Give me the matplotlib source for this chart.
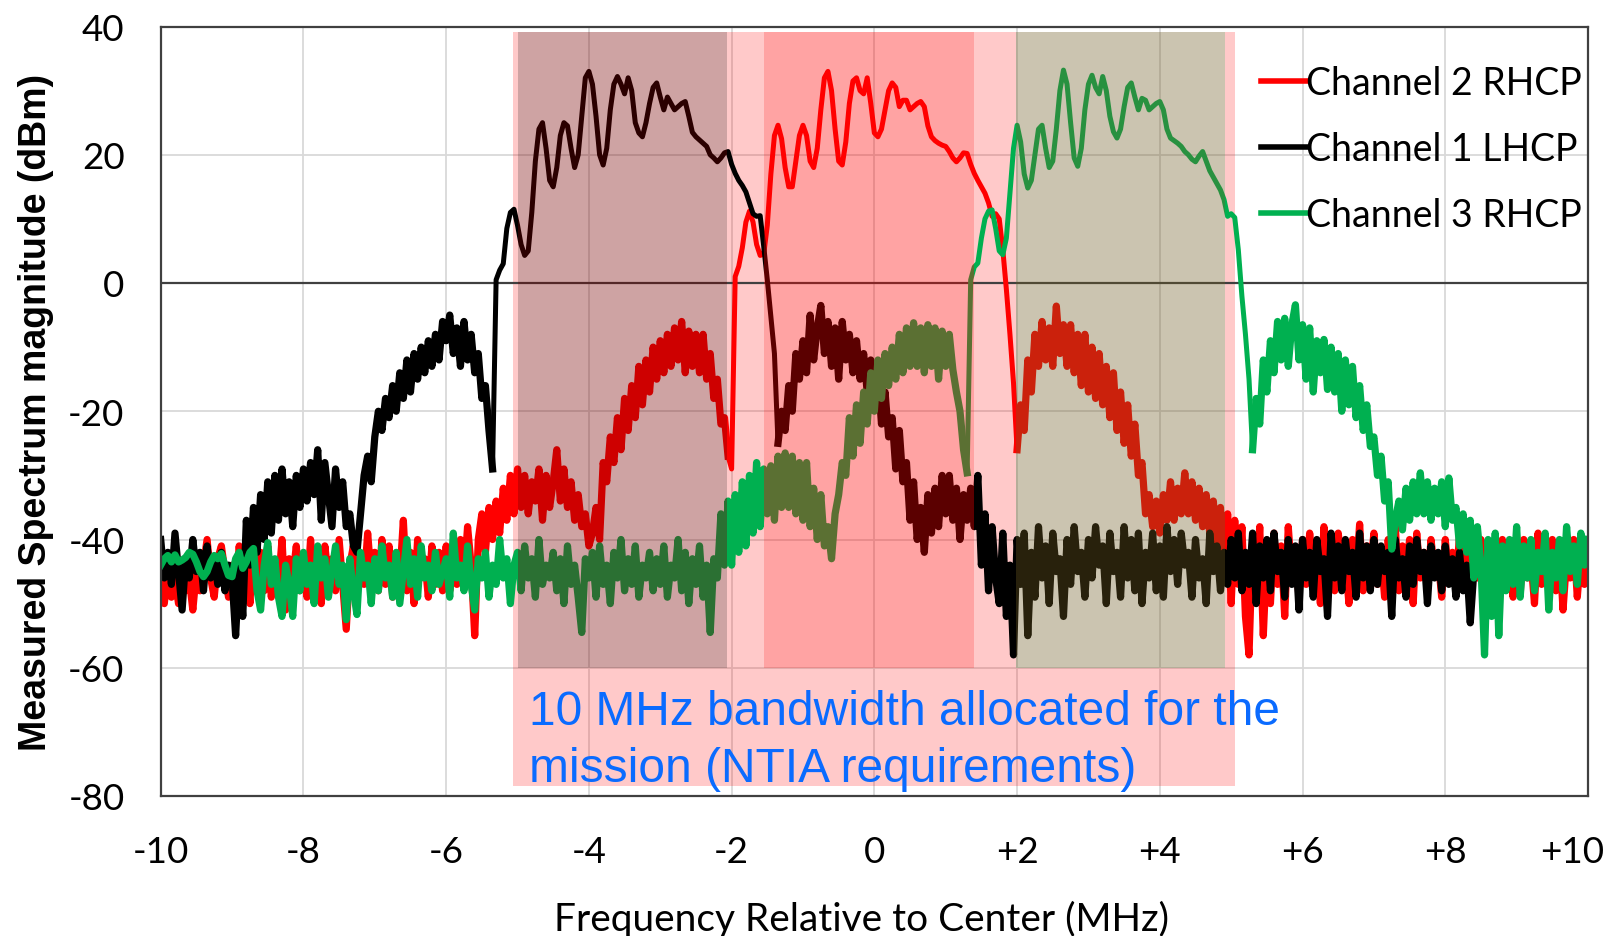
import matplotlib
matplotlib.use('Agg')
import matplotlib.pyplot as plt
from matplotlib.patches import Rectangle
from matplotlib.transforms import ScaledTranslation
import numpy as np

# ---- data (dBm on a 0.05 MHz grid) ----
freq_mhz = np.round(np.arange(-10.0, 10.0001, 0.05), 2)

# Channel 2 RHCP (red)
ch2_dbm = [
    -47, -50, -45, -49, -46, -50, -44, -48, -46, -51, -45, -48, -44, -40, -46, -49, -43, -41, -45, -49,
    -44, -49, -41, -47, -43, -50, -40, -46, -42, -48, -41, -49, -44, -47, -40, -51, -43, -46, -41, -48,
    -43, -49, -40, -47, -42, -50, -41, -46, -43, -48, -40, -47, -54, -44, -41, -49, -43, -47, -39, -46,
    -42, -48, -40, -47, -41, -49, -43, -46, -37, -48, -42, -50, -40, -46, -43, -49, -41, -47, -42, -48,
    -41, -48, -43, -47, -40, -46, -38, -44, -55, -40, -36, -42, -35, -40, -34, -39, -32, -37, -30, -36,
    -29, -35, -30, -36, -31, -34, -29, -37, -30, -35, -31, -26, -34, -29, -35, -31, -37, -33, -38, -36,
    -41, -39, -35, -40, -28, -31, -24, -28, -21, -26, -18, -23, -16, -21, -13, -19, -12, -17, -10, -15,
    -9, -14, -8, -13, -7, -12, -6, -14, -7.5, -13, -8, -14, -8, -15, -11, -18, -15, -22, -21, -27,
    -29, 1, 2.6, 5.5, 9.5, 11.2, 9.5, 6, 4.3, 4.5, 9, 17, 23, 24.6, 22.5, 18, 15, 15, 19, 23,
    24.6, 23, 19, 18, 21, 27, 32, 33, 30, 24, 19, 18.4, 22, 28, 31.5, 32, 30, 29.5, 32, 28,
    23.4, 22.8, 24, 27, 30, 31.2, 30.5, 27.5, 28.5, 28.5, 27, 27.5, 28, 28.3, 27.5, 24.5, 22.8, 22.2, 21.8, 21.5,
    21.3, 20.5, 19.5, 18.9, 19.5, 20.3, 20.2, 18.5, 17.1, 16, 15, 14, 12.5, 10.4, 10.8, 10, 5.2, -1, -8, -15.6,
    -26, -19, -23, -12, -17, -8, -13, -6, -12, -7, -13, -3.6, -11, -6.5, -13, -6.5, -14, -8, -16, -8,
    -17, -10, -18, -11, -19, -13, -21, -14, -23, -17, -25, -19, -27, -22, -30, -28, -36, -33, -38, -34,
    -39, -33, -37, -31, -37, -32, -36, -29.6, -36, -31, -37, -32, -38, -33, -39, -34, -42, -35, -46, -36,
    -50, -37, -47, -38, -52, -58, -40, -49, -38, -55, -42, -50, -39, -47, -41, -52, -38, -46, -42, -49,
    -40, -47, -39, -45, -42, -50, -38, -46, -41, -48, -39, -44, -43, -50, -40, -46, -37.6, -48, -41, -45,
    -39, -47, -42, -49, -40, -46, -38, -48, -41, -45, -40, -50, -39, -46, -42, -48, -40, -45, -43, -49,
    -40, -46, -42, -48, -39, -47, -41, -50, -43, -46, -40, -49, -42, -45, -41, -48, -40, -47, -42, -49,
    -41, -48.5, -40, -46, -43, -50, -39, -47, -42, -45, -40, -48, -41, -51, -43, -46, -40, -49, -42, -47,
    -44,
]

# Channel 1 LHCP (black), trace stops near +8.4 MHz
ch1_dbm = [
    -40, -46, -42, -47, -39, -45, -51, -43, -46, -40, -45, -42, -48, -41, -46, -43, -47, -42, -48, -44,
    -46, -55, -44, -52, -37, -44, -35, -42, -33, -40, -31, -39, -30, -37, -29, -36, -31, -38, -30, -35,
    -29, -34, -28, -33, -26, -37, -28, -33, -38, -29, -35, -31, -38, -36, -41, -42, -36, -30, -27, -31,
    -24, -20, -23, -18, -21, -16, -20, -14, -18, -12, -17, -11, -15, -10, -14, -9, -13, -8, -12, -6,
    -9, -5, -11, -7, -13, -6, -12, -8, -14, -11, -18, -16, -23, -29, 0.5, 2, 3, 8.5, 11, 11.5,
    9, 6, 4.3, 5, 11, 19, 24, 25, 21, 16, 15, 18, 23, 25, 24.5, 21, 18, 20, 26, 32,
    33, 31, 26, 20, 18.4, 21, 27, 31, 32.2, 31, 29.5, 32, 30, 25, 23.4, 22.8, 25, 28, 30.5, 31.2,
    29, 27, 29, 28, 27, 27.5, 28, 28.3, 26, 23.5, 22.8, 22.3, 21.8, 21.3, 20, 19.5, 18.9, 19.5, 20.3, 20.5,
    18.5, 17.1, 16, 15.2, 14.2, 12.5, 10.8, 10.4, 10.5, 5.7, 0.5, -5.2, -11, -25, -20, -23, -16, -20, -11, -15,
    -9, -14, -5, -12, -7, -3.5, -11, -6, -13, -7, -15, -6, -12, -8, -14, -9, -15, -11, -17, -12,
    -16, -14, -22, -17, -24, -21, -29, -23, -31, -28, -37, -31, -40, -35, -42, -33, -39, -32, -38, -30,
    -36, -30, -37, -32, -40, -33, -37, -32, -38, -30, -44, -36, -48, -38, -46, -50, -39, -52, -44, -58,
    -40, -47, -39, -55, -42, -49, -38, -46, -41, -50, -39, -45, -43, -52, -40, -47, -38, -45, -42, -49,
    -40, -46, -38, -44, -41, -50, -39, -45, -42, -49, -38, -46, -40, -48, -39, -50, -42, -46, -39, -48,
    -41, -49, -38, -45, -40, -47, -39, -44, -42, -49, -40, -46, -43, -50, -39, -45, -41, -48, -42, -47,
    -40, -46, -39, -48, -42, -47, -39, -50, -41, -46, -40, -48, -39, -45, -42, -49, -40, -47, -41, -51,
    -40, -46, -42, -49, -40, -45, -43, -52, -39, -46, -41, -48, -40, -45, -42, -49, -39, -46, -41, -48,
    -40, -47, -41, -45, -42, -52, -40, -46, -43, -49, -41, -47, -40, -45, -42, -50, -41, -46, -42, -48,
    -41, -47, -43, -49, -42, -48, -44, -53, -45,
]

# Channel 3 RHCP (green)
ch3_dbm = [
    -44, -43, -42.5, -43.5, -42.4, -43.5, -43.2, -42.8, -42, -42.3, -43.5, -45, -45.8, -45, -43.5, -42.5, -43, -42.2, -44, -45.6,
    -45.8, -43, -42, -44.5, -43.5, -42, -41.4, -48, -51, -44, -40.5, -47, -43, -49, -52, -44, -47, -52, -43, -48,
    -42, -47, -44, -50, -41, -46, -43, -49, -45, -41, -47, -44, -52.5, -43, -48, -51.7, -42, -46, -44, -50,
    -43, -48, -41, -46, -44, -49, -42, -50, -45, -40, -47, -43, -49, -41, -46, -44, -48, -42, -47, -45,
    -43, -49, -39, -46, -44, -48, -41, -47, -51, -43, -46, -42, -49, -44, -47, -40, -46, -43, -50, -44,
    -42, -48, -41, -46, -43, -49, -40, -47, -44, -46, -42, -48, -43, -50, -41, -47, -44, -49, -54.5, -43,
    -46, -42, -49, -41, -47, -44, -50, -42, -46, -40, -48, -43, -47, -41, -49, -44, -46, -42, -48, -43,
    -47, -41, -49, -44, -46, -40, -48, -42, -50, -43, -47, -41, -49, -44, -54.5, -43, -46, -36, -44, -34,
    -44, -33, -42, -31, -41, -30, -39, -28, -38, -29, -36, -28.5, -37, -27, -35, -26.5, -35, -27, -36, -28,
    -37, -28, -38, -32, -40, -33, -41, -38, -43, -36, -33, -28, -30, -21, -27, -19, -25, -17, -22, -14,
    -20, -12, -18, -11, -16, -10, -15, -8, -14, -7, -13, -6.2, -13, -7, -14, -6.5, -13, -7, -15, -7.5,
    -13, -8, -13.5, -17, -20, -26, -29.6, 0.5, 2.5, 3.1, 7, 10, 11.2, 11.4, 8.5, 5, 4.4, 7, 14, 21,
    24.6, 22, 17, 14.8, 16, 20, 24, 24.6, 21, 18, 19, 24, 30, 33.2, 31, 25, 19.5, 18.2, 21, 27,
    31, 32.4, 30.5, 29.5, 32.2, 30, 26, 23.6, 22.6, 24, 27.5, 30.5, 31.2, 29, 27, 28.8, 28.5, 27, 27.5, 28,
    28.3, 27, 24, 22.6, 22.2, 21.8, 21.3, 20.5, 20, 19.3, 18.9, 19.8, 20.5, 19, 17.5, 16.5, 15.5, 14.5, 13, 10.4,
    10.8, 10.2, 5.2, -2, -8, -15, -26, -18, -22, -12, -17, -9, -14, -6, -12, -5.5, -13, -6.5, -3.4, -12,
    -6.5, -15, -7, -17, -9, -14, -8.8, -16.6, -10, -17, -11, -20, -12, -19, -13, -21, -16, -23, -19, -25.5,
    -24, -30, -27, -34, -31, -41.5, -37, -34, -38.5, -32, -37, -31, -36, -29.6, -36, -31, -37, -32, -36, -31,
    -38, -30.4, -37, -35, -41, -36, -42, -37, -46, -38, -44, -58, -40, -52, -39, -55, -41, -48, -40, -47,
    -38, -49, -41, -46, -40, -48, -42, -45, -39, -51, -42, -46, -40, -48, -38, -45, -41, -47, -39, -44,
    -40,
]

series_labels = ['Channel 2 RHCP', 'Channel 1 LHCP', 'Channel 3 RHCP']
series_colors = ['#FF0000', '#000000', '#00B050']
# span of each channel's smooth main lobe (the rest of the trace is noisy)
main_lobes = [(-2.0, 1.95), (-5.30, -1.40), (1.35, 5.25)]

# allocated mission band and the three channel slots (MHz)
mission_band = (-5.07, 5.06)
channel_slots = [(-5.0, -2.07), (-1.55, 1.39), (1.98, 4.91)]
slot_colors = ['#780000', '#FF0000', '#705C24']

x_ticks = [-10, -8, -6, -4, -2, 0, 2, 4, 6, 8, 10]
x_ticklabels = ['-10', '-8', '-6', '-4', '-2', '0', '+2', '+4', '+6', '+8', '+10']
y_ticks = [-80, -60, -40, -20, 0, 20, 40]

plt.rcParams['font.family'] = ['Lato', 'DejaVu Sans']
plt.rcParams['axes.unicode_minus'] = False

fig = plt.figure(figsize=(16.1, 9.37), dpi=100)
ax = fig.add_axes([160.7 / 1610, 140 / 937, 1427.3 / 1610, 769.5 / 937])

# pink mission band (kept out of the channel slots, which get their own tint)
band_top, slot_bottom, band_bottom = 39.2, -60, -78.4
pink = dict(facecolor='#FF0000', alpha=0.21, edgecolor='none', zorder=1)
ax.add_patch(Rectangle((mission_band[0], band_bottom), mission_band[1] - mission_band[0],
                       slot_bottom - band_bottom, **pink))
edges = [mission_band[0]] + [e for s in channel_slots for e in s] + [mission_band[1]]
for a, b in zip(edges[0::2], edges[1::2]):
    ax.add_patch(Rectangle((a, slot_bottom), b - a, band_top - slot_bottom, **pink))

ax.axhline(0, color='#404040', lw=1.6, zorder=1.5)

dbm_lists = [ch2_dbm, ch1_dbm, ch3_dbm]
for k, (vals, lab, col, lobe) in enumerate(zip(dbm_lists, series_labels, series_colors, main_lobes)):
    f = freq_mhz[:len(vals)]
    v = np.array(vals, dtype=float)
    ax.plot(f, v, color=col, lw=3.6, label=lab, solid_joinstyle='round', zorder=2 + 0.1 * k)
    # noisy parts look like a solid band in the original, draw them heavier
    noisy = np.where((f >= lobe[0]) & (f <= lobe[1]), np.nan, v)
    ax.plot(f, noisy, color=col, lw=5.2, solid_joinstyle='round', zorder=2 + 0.1 * k)

# channel slot tints drawn over the traces
for (a, b), c in zip(channel_slots, slot_colors):
    ax.add_patch(Rectangle((a, slot_bottom), b - a, band_top - slot_bottom,
                           facecolor=c, alpha=0.36, edgecolor='none', zorder=3))

ax.text(-4.84, -68.8, '10 MHz bandwidth allocated for the', color='#0A6BFF',
        fontsize=34.5, family='Liberation Sans', va='baseline', zorder=4)
ax.text(-4.84, -77.6, 'mission (NTIA requirements)', color='#0A6BFF',
        fontsize=34.5, family='Liberation Sans', va='baseline', zorder=4)

ax.set_xlim(-10, 10)
ax.set_ylim(-80, 40)
ax.set_xticks(x_ticks)
ax.set_xticklabels(x_ticklabels)
ax.set_yticks(y_ticks)
ax.tick_params(length=0, labelsize=26.5)
ax.tick_params(axis='y', pad=26)
ax.tick_params(axis='x', pad=28)
# last x label is pulled inwards so it stays on the page
last = ax.get_xticklabels()[-1]
last.set_transform(last.get_transform() + ScaledTranslation(-0.16, 0, fig.dpi_scale_trans))
ax.grid(True, color='#D9D9D9', lw=1.3)
ax.set_axisbelow(True)
for sp in ax.spines.values():
    sp.set_color('#404040')
    sp.set_linewidth(1.6)

ax.set_ylabel('Measured Spectrum magnitude (dBm)', family='Liberation Sans',
              fontweight='bold', fontsize=27)
ax.yaxis.set_label_coords(-0.0745, 0.5)
ax.set_xlabel('Frequency Relative to Center (MHz)', fontsize=28)
ax.xaxis.set_label_coords(0.4907, -0.135)

leg = ax.legend(loc='upper left', bbox_to_anchor=(0.771, 0.95), frameon=False,
                fontsize=27, handlelength=1.2, handletextpad=0.0, labelspacing=0.8,
                borderaxespad=0, borderpad=0)
for h in leg.get_lines():
    h.set_linewidth(4)

fig.savefig('out.png', dpi=100)
